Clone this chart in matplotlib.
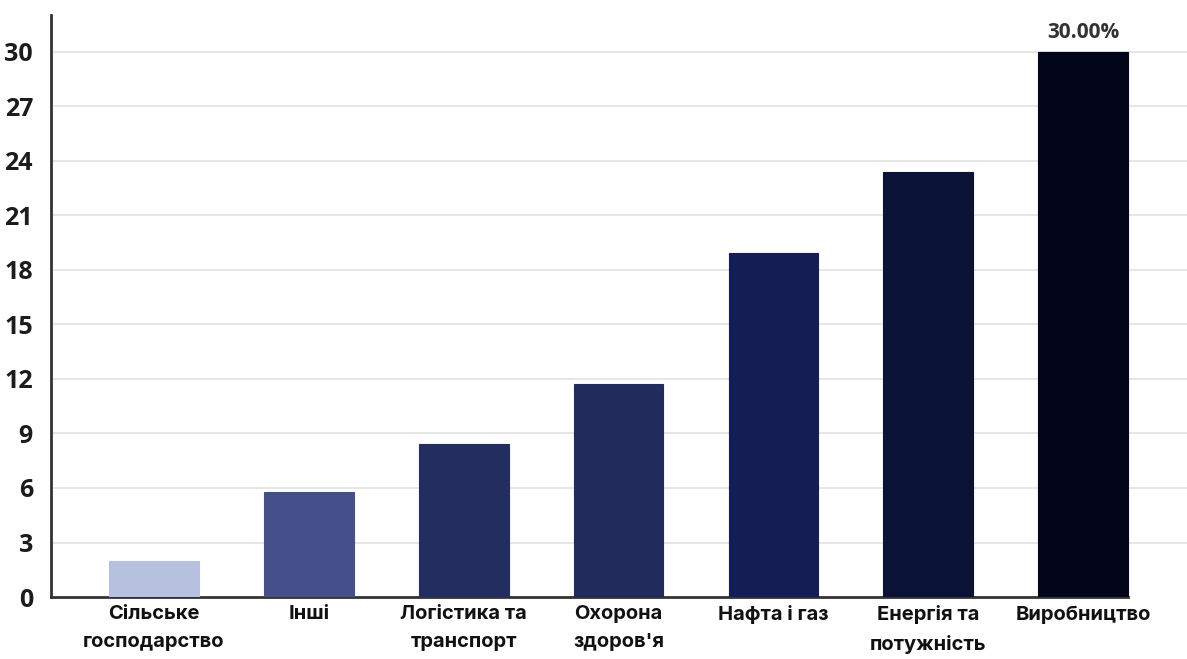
import matplotlib
matplotlib.use("Agg")
import matplotlib.pyplot as plt
import numpy as np

# data
categories = [
    "Сільське\nгосподарство",
    "Інші",
    "Логістика та\nтранспорт",
    "Охорона\nздоров'я",
    "Нафта і газ",
    "Енергія та\nпотужність",
    "Виробництво",
]
values = [2.0, 5.8, 8.4, 11.7, 18.9, 23.4, 30.0]
bar_colors = ["#b5c1df", "#45508a", "#242d5f", "#212b5c", "#141e55", "#0a1235", "#03061a"]
y_ticks = list(range(0, 31, 3))
top_label = "30.00%"

fig = plt.figure(figsize=(11.87, 6.59), dpi=100)
ax = fig.add_axes([0.043, 0.094, 0.957, 0.883])

x = np.arange(len(categories))
bar_w = 0.58
ax.bar(x, values, width=bar_w, color=bar_colors, edgecolor=bar_colors, linewidth=0.8, zorder=3)

# label over the tallest bar
ax.annotate(top_label, (x[-1], values[-1]), xytext=(0, 10), textcoords="offset points",
            ha="center", va="baseline", fontsize=15, fontweight="bold", color="#333333",
            family=["Open Sans", "DejaVu Sans"], fontstretch="condensed")

ax.set_xlim(-0.664, 6.67)
ax.set_ylim(0, 32)

ax.set_yticks(y_ticks)
ax.set_yticklabels([str(t) for t in y_ticks], fontsize=18, fontweight="bold", color="#1c1c1c",
                   family=["Open Sans", "DejaVu Sans"], fontstretch="condensed")
ax.tick_params(axis="y", length=0, pad=13)

ax.set_xticks(x)
ax.set_xticklabels(categories, fontsize=14.5, fontweight="bold", color="#111111",
                   family=["Inter", "DejaVu Sans"], linespacing=1.7)
ax.tick_params(axis="x", length=0, pad=6)

# grid lines (skip the one at zero, the axis covers it)
ax.hlines(y_ticks[1:], -0.664, 6.67, color="#e4e4e4", linewidth=1.3, zorder=0)

for side in ["top", "right"]:
    ax.spines[side].set_visible(False)
ax.spines["left"].set_color("#333333")
ax.spines["left"].set_linewidth(2)
ax.spines["bottom"].set_color("#333333")
ax.spines["bottom"].set_linewidth(2)
ax.spines["bottom"].set_bounds(-0.664, x[-1] + bar_w / 2)

fig.savefig("out.png", dpi=100)
